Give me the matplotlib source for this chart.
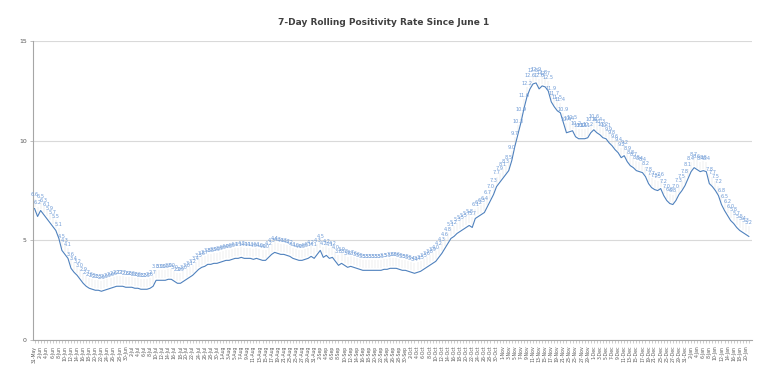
import matplotlib
matplotlib.use("Agg")
import matplotlib.pyplot as plt
import pandas as pd

title = "7-Day Rolling Positivity Rate Since June 1"
start_date = "2020-05-31"
rates = [
    6.6, 6.2, 6.5, 6.3, 6.1, 5.9, 5.7, 5.5, 5.1, 4.5,
    4.3, 4.1, 3.6, 3.4, 3.25, 3.05, 2.85, 2.7, 2.6, 2.55,
    2.5, 2.5, 2.45, 2.5, 2.55, 2.6, 2.65, 2.7, 2.7, 2.7,
    2.65, 2.65, 2.65, 2.6, 2.6, 2.55, 2.55, 2.55, 2.6, 2.7,
    3.0, 3.0, 3.0, 3.0, 3.05, 3.05, 2.95, 2.85, 2.85, 2.95,
    3.05, 3.15, 3.25, 3.4, 3.55, 3.65, 3.7, 3.8, 3.8, 3.85,
    3.85, 3.9, 3.95, 4.0, 4.0, 4.05, 4.1, 4.1, 4.15, 4.1,
    4.1, 4.1, 4.05, 4.1, 4.05, 4.0, 4.0, 4.15, 4.3, 4.4,
    4.35, 4.3, 4.3, 4.25, 4.2, 4.1, 4.05, 4.0, 4.0, 4.05,
    4.1, 4.2, 4.1, 4.3, 4.5, 4.15, 4.25, 4.1, 4.15, 3.95,
    3.75, 3.85, 3.75, 3.65, 3.7, 3.65, 3.6, 3.55, 3.5, 3.5,
    3.5, 3.5, 3.5, 3.5, 3.5, 3.55, 3.55, 3.6, 3.6, 3.6,
    3.55, 3.5, 3.5, 3.45, 3.4, 3.35, 3.4, 3.45, 3.55, 3.65,
    3.75, 3.85, 3.95, 4.15, 4.35, 4.6, 4.85, 5.1, 5.2, 5.35,
    5.45, 5.55, 5.65, 5.75, 5.65, 6.1, 6.2, 6.3, 6.4, 6.7,
    7.0, 7.3, 7.7, 7.9, 8.1, 8.3, 8.5, 9.0, 9.7, 10.3,
    10.9, 11.6, 12.2, 12.6, 12.85, 12.9, 12.6, 12.75, 12.7, 12.5,
    11.95, 11.7, 11.5, 11.4, 10.9, 10.4, 10.45, 10.5, 10.2, 10.1,
    10.1, 10.1, 10.15, 10.4, 10.55, 10.4, 10.3, 10.15, 10.1, 9.9,
    9.75, 9.55, 9.4, 9.15, 9.25, 8.95, 8.75, 8.65, 8.5, 8.45,
    8.4, 8.2, 7.85, 7.65, 7.55, 7.5, 7.6, 7.25, 7.0, 6.85,
    6.8, 7.0, 7.3, 7.5, 7.75, 8.1, 8.45, 8.65, 8.55, 8.45,
    8.5, 8.45, 7.85, 7.7, 7.5, 7.25, 6.8, 6.5, 6.25, 6.0,
    5.85, 5.65, 5.5, 5.4, 5.3, 5.2,
]
y_ticks = [0, 5, 10, 15]

dates = pd.date_range(start_date, periods=len(rates), freq="D")
date_labels = [f"{d.day}-{d.strftime('%b')}" for d in dates]
x = list(range(len(rates)))

line_color = "#4f81bd"
label_color = "#6f9bd6"

fig = plt.figure(figsize=(7.68, 3.8), dpi=100)
ax = fig.add_axes([0.043, 0.105, 0.936, 0.787])

ax.plot(x, rates, color=line_color, lw=0.8, zorder=3)

# data labels with faint leader lines
for xi, v in zip(x, rates):
    ax.annotate(f"{v:.1f}", xy=(xi, v), xytext=(0, 8), textcoords="offset points",
                ha="center", va="bottom", fontsize=3.6, color=label_color, zorder=4)
ax.vlines(x, [v + 0.1 for v in rates], [v + 0.5 for v in rates],
          colors="#dadada", lw=0.3, zorder=2)

ax.set_xlim(-0.5, len(rates))
ax.set_ylim(0, 15)
ax.set_yticks(y_ticks)
ax.set_yticklabels([str(t) for t in y_ticks], fontsize=4.5, color="#595959")
ax.yaxis.grid(True, color="#d9d9d9", lw=0.8)
ax.set_axisbelow(True)

ax.set_xticks(x)
ax.set_xticklabels([lab if i % 2 == 0 else "" for i, lab in enumerate(date_labels)],
                   rotation=90, fontsize=3.3, color="#595959")
ax.tick_params(axis="x", length=2.5, width=0.4, color="#a6a6a6", pad=1.5)
ax.tick_params(axis="y", length=2.5, width=0.5, color="#a6a6a6", pad=2)

for side in ["top", "right"]:
    ax.spines[side].set_visible(False)
ax.spines["left"].set_color("#a6a6a6")
ax.spines["bottom"].set_color("#a6a6a6")
ax.spines["left"].set_linewidth(0.8)
ax.spines["bottom"].set_linewidth(0.8)

fig.text(0.5, 0.94, title, ha="center", va="center", fontsize=6.5,
         color="#404040", fontweight="semibold")

fig.savefig("out.png", dpi=100, facecolor="white")
